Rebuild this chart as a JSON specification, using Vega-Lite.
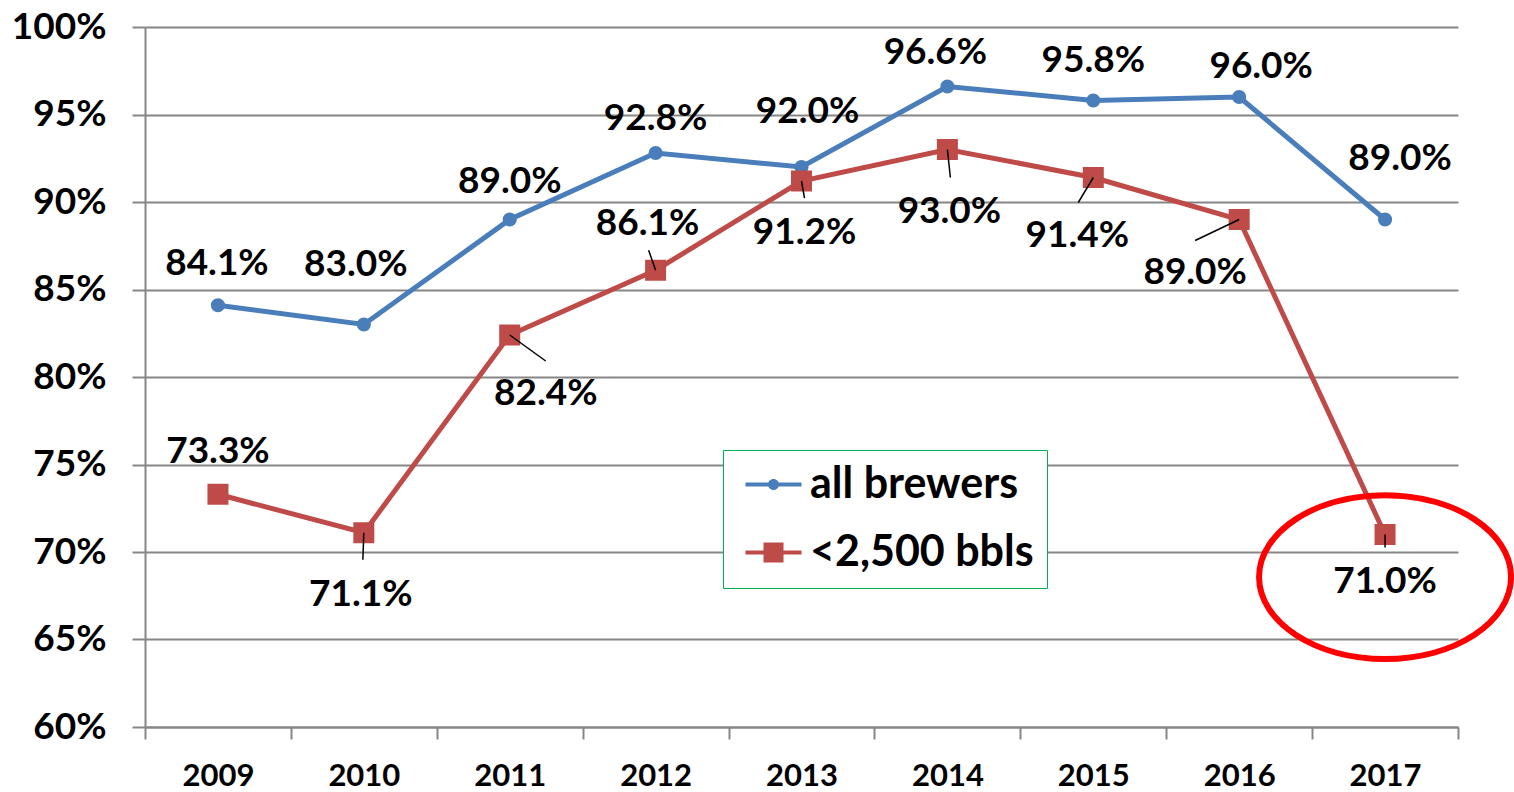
{
  "$schema": "https://vega.github.io/schema/vega-lite/v6.json",
  "width": 1313,
  "height": 700,
  "autosize": {"type": "none"},
  "padding": {"left": 145, "top": 27, "right": 56, "bottom": 65},
  "background": "white",
  "config": {"view": {"stroke": null}},
  "data": {"values": [
    {"series": "all brewers", "year": "2009", "value": 0.841},
    {"series": "all brewers", "year": "2010", "value": 0.830},
    {"series": "all brewers", "year": "2011", "value": 0.890},
    {"series": "all brewers", "year": "2012", "value": 0.928},
    {"series": "all brewers", "year": "2013", "value": 0.920},
    {"series": "all brewers", "year": "2014", "value": 0.966},
    {"series": "all brewers", "year": "2015", "value": 0.958},
    {"series": "all brewers", "year": "2016", "value": 0.960},
    {"series": "all brewers", "year": "2017", "value": 0.890},
    {"series": "<2,500 bbls", "year": "2009", "value": 0.733},
    {"series": "<2,500 bbls", "year": "2010", "value": 0.711},
    {"series": "<2,500 bbls", "year": "2011", "value": 0.824},
    {"series": "<2,500 bbls", "year": "2012", "value": 0.861},
    {"series": "<2,500 bbls", "year": "2013", "value": 0.912},
    {"series": "<2,500 bbls", "year": "2014", "value": 0.930},
    {"series": "<2,500 bbls", "year": "2015", "value": 0.914},
    {"series": "<2,500 bbls", "year": "2016", "value": 0.890},
    {"series": "<2,500 bbls", "year": "2017", "value": 0.710}
  ]},
  "encoding": {
    "x": {
      "field": "year", "type": "ordinal",
      "scale": {"paddingInner": 0, "paddingOuter": 0},
      "axis": {
        "title": null, "labelAngle": 0, "tickBand": "extent",
        "domainColor": "#868686", "domainWidth": 2,
        "tickColor": "#868686", "tickWidth": 2, "tickSize": 12,
        "labelFont": "Lato", "labelFontSize": 31, "labelFontWeight": "bold", "labelColor": "black",
        "labelPadding": 22, "grid": false
      }
    },
    "y": {
      "field": "value", "type": "quantitative",
      "scale": {"domain": [0.6, 1.0], "nice": false, "zero": false},
      "axis": {
        "title": null, "values": [0.6, 0.65, 0.7, 0.75, 0.8, 0.85, 0.9, 0.95, 1.0], "format": ".0%",
        "grid": true, "gridColor": "#868686", "gridWidth": 2,
        "domainColor": "#868686", "domainWidth": 2,
        "tickColor": "#868686", "tickWidth": 2, "tickSize": 13,
        "labelFont": "Lato", "labelFontSize": 37, "labelFontWeight": "bold", "labelColor": "black",
        "labelPadding": 26
      }
    }
  },
  "layer": [
    {
      "mark": {"type": "line", "strokeWidth": 5},
      "encoding": {
        "color": {
          "field": "series", "type": "nominal",
          "scale": {"domain": ["all brewers", "<2,500 bbls"], "range": ["#4a7ebb", "#be4b48"]},
          "legend": {
            "title": null, "orient": "none", "legendX": 578, "legendY": 423,
            "strokeColor": "#00b050", "fillColor": "white", "padding": 13,
            "labelFont": "Lato", "labelFontSize": 43, "labelFontWeight": "bold", "labelColor": "black",
            "labelLimit": 600,
            "symbolSize": 1600, "labelOffset": 31, "rowPadding": 24,
            "encode": {
              "symbols": {
                "update": {
                  "shape": {"signal": "datum.value == 'all brewers' ? 'M-0.6,-0.1H2.2V0.1H-0.6Z M0.525,0A0.275,0.275,0,1,1,1.075,0A0.275,0.275,0,1,1,0.525,0Z' : 'M-0.6,-0.1H2.2V0.1H-0.6Z M0.3,-0.5H1.3V0.5H0.3Z'"},
                  "fill": {"signal": "datum.value == 'all brewers' ? '#4a7ebb' : '#be4b48'"},
                  "stroke": {"value": "transparent"},
                  "strokeWidth": {"value": 0},
                  "opacity": {"value": 1},
                  "fillOpacity": {"value": 1},
                  "size": {"value": 1600}
                }
              }
            }
          }
        }
      }
    },
    {
      "transform": [{"filter": "datum.series == 'all brewers'"}],
      "mark": {"type": "point", "shape": "circle", "filled": true, "size": 200, "opacity": 1},
      "encoding": {"color": {"field": "series", "type": "nominal"}}
    },
    {
      "transform": [{"filter": "datum.series == '<2,500 bbls'"}],
      "mark": {"type": "point", "shape": "square", "filled": true, "size": 441, "opacity": 1},
      "encoding": {"color": {"field": "series", "type": "nominal"}}
    },
    {
      "transform": [{"filter": "datum.series == '<2,500 bbls' && datum.year != '2009'"}],
      "mark": {"type": "point", "filled": false, "color": "black", "strokeWidth": 1.5, "size": 3600, "opacity": 1},
      "encoding": {
        "shape": {
          "field": "year", "type": "nominal", "legend": null,
          "scale": {
            "domain": ["2010", "2011", "2012", "2013", "2014", "2015", "2016", "2017"],
            "range": ["M0,0L-0.033,0.9", "M0,0L1.2,0.867", "M0,0L-0.233,-0.667", "M0,0L0.1,0.567", "M0,0L0.1,0.933", "M0,0L-0.5,0.833", "M0,0L-1.467,0.7", "M0,0L0,0.433"]
          }
        }
      }
    },
    {
      "encoding": {"text": {"field": "value", "type": "quantitative", "format": ".1%"}},
      "layer": [
        {"transform": [{"filter": "datum.series == 'all brewers' && datum.year == '2009'"}], "mark": {"type": "text", "font": "Lato", "fontWeight": "bold", "fontSize": 37, "color": "black", "dx": -1, "dy": -41}},
        {"transform": [{"filter": "datum.series == 'all brewers' && datum.year == '2010'"}], "mark": {"type": "text", "font": "Lato", "fontWeight": "bold", "fontSize": 37, "color": "black", "dx": -8, "dy": -60}},
        {"transform": [{"filter": "datum.series == 'all brewers' && datum.year == '2011'"}], "mark": {"type": "text", "font": "Lato", "fontWeight": "bold", "fontSize": 37, "color": "black", "dx": 0, "dy": -38}},
        {"transform": [{"filter": "datum.series == 'all brewers' && datum.year == '2012'"}], "mark": {"type": "text", "font": "Lato", "fontWeight": "bold", "fontSize": 37, "color": "black", "dx": 0, "dy": -34}},
        {"transform": [{"filter": "datum.series == 'all brewers' && datum.year == '2013'"}], "mark": {"type": "text", "font": "Lato", "fontWeight": "bold", "fontSize": 37, "color": "black", "dx": 6, "dy": -55}},
        {"transform": [{"filter": "datum.series == 'all brewers' && datum.year == '2014'"}], "mark": {"type": "text", "font": "Lato", "fontWeight": "bold", "fontSize": 37, "color": "black", "dx": -12, "dy": -34}},
        {"transform": [{"filter": "datum.series == 'all brewers' && datum.year == '2015'"}], "mark": {"type": "text", "font": "Lato", "fontWeight": "bold", "fontSize": 37, "color": "black", "dx": 0, "dy": -40}},
        {"transform": [{"filter": "datum.series == 'all brewers' && datum.year == '2016'"}], "mark": {"type": "text", "font": "Lato", "fontWeight": "bold", "fontSize": 37, "color": "black", "dx": 22, "dy": -30}},
        {"transform": [{"filter": "datum.series == 'all brewers' && datum.year == '2017'"}], "mark": {"type": "text", "font": "Lato", "fontWeight": "bold", "fontSize": 37, "color": "black", "dx": 15, "dy": -61}},
        {"transform": [{"filter": "datum.series == '<2,500 bbls' && datum.year == '2009'"}], "mark": {"type": "text", "font": "Lato", "fontWeight": "bold", "fontSize": 37, "color": "black", "dx": 0, "dy": -42}},
        {"transform": [{"filter": "datum.series == '<2,500 bbls' && datum.year == '2010'"}], "mark": {"type": "text", "font": "Lato", "fontWeight": "bold", "fontSize": 37, "color": "black", "dx": -3, "dy": 62}},
        {"transform": [{"filter": "datum.series == '<2,500 bbls' && datum.year == '2011'"}], "mark": {"type": "text", "font": "Lato", "fontWeight": "bold", "fontSize": 37, "color": "black", "dx": 36, "dy": 59}},
        {"transform": [{"filter": "datum.series == '<2,500 bbls' && datum.year == '2012'"}], "mark": {"type": "text", "font": "Lato", "fontWeight": "bold", "fontSize": 37, "color": "black", "dx": -8, "dy": -46}},
        {"transform": [{"filter": "datum.series == '<2,500 bbls' && datum.year == '2013'"}], "mark": {"type": "text", "font": "Lato", "fontWeight": "bold", "fontSize": 37, "color": "black", "dx": 3, "dy": 52}},
        {"transform": [{"filter": "datum.series == '<2,500 bbls' && datum.year == '2014'"}], "mark": {"type": "text", "font": "Lato", "fontWeight": "bold", "fontSize": 37, "color": "black", "dx": 2, "dy": 62}},
        {"transform": [{"filter": "datum.series == '<2,500 bbls' && datum.year == '2015'"}], "mark": {"type": "text", "font": "Lato", "fontWeight": "bold", "fontSize": 37, "color": "black", "dx": -16, "dy": 58}},
        {"transform": [{"filter": "datum.series == '<2,500 bbls' && datum.year == '2016'"}], "mark": {"type": "text", "font": "Lato", "fontWeight": "bold", "fontSize": 37, "color": "black", "dx": -44, "dy": 53}},
        {"transform": [{"filter": "datum.series == '<2,500 bbls' && datum.year == '2017'"}], "mark": {"type": "text", "font": "Lato", "fontWeight": "bold", "fontSize": 37, "color": "black", "dx": 0, "dy": 47}}
      ]
    },
    {
      "data": {"values": [{"note": "highlight", "year": "2017", "value": 0.6857}]},
      "mark": {"type": "point", "shape": "M-1,0A1,0.65,0,1,1,1,0A1,0.65,0,1,1,-1,0Z", "filled": false, "color": "#ff0000", "strokeWidth": 6, "size": 63504, "opacity": 1}
    }
  ]
}
